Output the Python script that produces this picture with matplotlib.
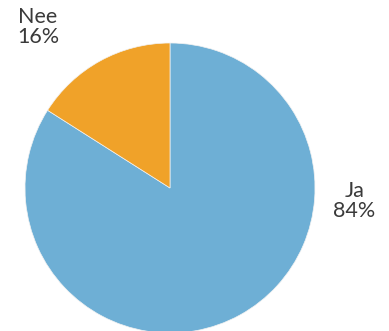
import matplotlib.pyplot as plt

labels = ["Ja", "Nee"]
values = [84, 16]
colors = ["#6eafd5", "#f0a229"]

plt.rcParams['font.family'] = ['Lato', 'DejaVu Sans']

W, H = 389, 331
fig = plt.figure(figsize=(W / 100, H / 100), dpi=100)
cx, cy, r = 170, 188, 145
ax = fig.add_axes([(cx - r) / W, (H - cy - r) / H, 2 * r / W, 2 * r / H])
ax.pie(values, colors=colors, startangle=90, counterclock=False, radius=1,
       wedgeprops=dict(edgecolor="#f2f2f2", linewidth=0.5))
ax.set_xlim(-1, 1)
ax.set_ylim(-1, 1)
ax.set_aspect("equal")
ax.axis("off")

ax.text(1.27, -0.09, f"{labels[0]}\n{values[0]}%", ha="center", va="center",
        multialignment="center", fontsize=15.5, color="#3a3a3a", linespacing=0.95)
ax.text(-1.05, 1.11, f"{labels[1]}\n{values[1]}%", ha="left", va="center",
        multialignment="left", fontsize=15.5, color="#3a3a3a", linespacing=0.95)

fig.savefig("out.png", dpi=100)
